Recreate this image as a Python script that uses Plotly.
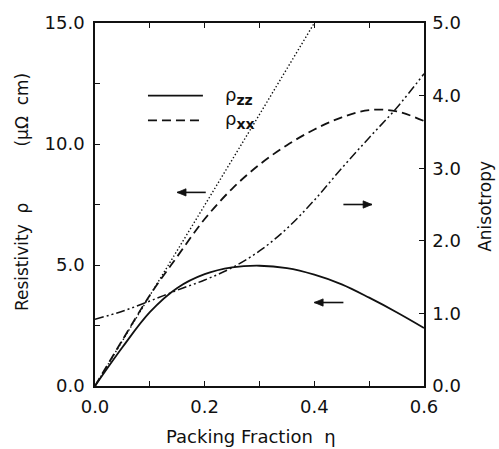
import plotly.graph_objects as go

# Packing fraction grid
eta = [0.0, 0.05, 0.10, 0.15, 0.20, 0.25, 0.30, 0.35, 0.40, 0.45, 0.50, 0.55, 0.60]

# Resistivity components (micro-ohm cm)
rho_zz = [0.0, 1.6, 3.05, 4.05, 4.62, 4.9, 4.97, 4.87, 4.6, 4.2, 3.65, 3.05, 2.4]
rho_xx = [0.0, 1.9, 3.75, 5.35, 6.9, 8.15, 9.15, 9.95, 10.6, 11.1, 11.4, 11.35, 10.95]

# Dotted reference line (left axis)
eta_lin = [0.0, 0.10, 0.20, 0.30, 0.40]
rho_lin = [0.0, 3.72, 7.47, 11.22, 15.0]

# Anisotropy (right axis)
aniso = [0.92, 1.03, 1.17, 1.32, 1.46, 1.63, 1.86, 2.17, 2.56, 3.0, 3.42, 3.83, 4.3]

FONT = "DejaVu Sans"
INK = "#111111"

fig = go.Figure()
fig.add_trace(go.Scatter(x=eta, y=rho_zz, mode="lines", line=dict(color=INK, width=1.8, shape="spline"),
                         showlegend=False))
fig.add_trace(go.Scatter(x=eta, y=rho_xx, mode="lines",
                         line=dict(color=INK, width=1.8, shape="spline", dash="9px,5px"), showlegend=False))
fig.add_trace(go.Scatter(x=eta_lin, y=rho_lin, mode="lines",
                         line=dict(color=INK, width=1.4, dash="1.4px,2.2px"), showlegend=False))
fig.add_trace(go.Scatter(x=eta, y=aniso, mode="lines", yaxis="y2",
                         line=dict(color=INK, width=1.5, shape="spline", dash="9px,3px,2px,3px,2px,3px"),
                         showlegend=False))

tick_style = dict(ticks="inside", ticklen=5, tickwidth=1.2, tickcolor=INK)
axis_common = dict(showline=True, linecolor=INK, linewidth=1.5, showgrid=False, zeroline=False,
                   tickformat=".1f", tickfont=dict(family=FONT, size=18, color=INK), **tick_style)

fig.update_layout(
    width=499, height=449,
    margin=dict(l=95, r=75, t=17, b=63),
    paper_bgcolor="white", plot_bgcolor="white",
    xaxis=dict(range=[0, 0.6], tick0=0, dtick=0.2, minor=dict(dtick=0.1, showgrid=False, **tick_style),
               mirror="ticks", ticklabelstandoff=4, **axis_common),
    yaxis=dict(range=[0, 15], tick0=0, dtick=5, minor=dict(dtick=2.5, showgrid=False, **tick_style),
               ticklabelstandoff=5, **axis_common),
    yaxis2=dict(range=[0, 5], tick0=0, dtick=1, overlaying="y", side="right",
                ticklabelstandoff=3, **axis_common),
)

title_font = dict(family=FONT, size=17, color=INK)
# Axis titles
fig.add_annotation(text="Packing Fraction  η", xref="paper", yref="paper", x=0.474, y=-0.138,
                   showarrow=False, font=dict(family=FONT, size=18, color=INK),
                   xanchor="center", yanchor="middle")
fig.add_annotation(text="Resistivity  ρ", xref="paper", yref="paper", x=-0.222, y=(386 - 255) / 369,
                   showarrow=False, font=title_font, textangle=-90, xanchor="center", yanchor="middle")
fig.add_annotation(text="(μΩ  cm)", xref="paper", yref="paper", x=-0.222, y=(386 - 105) / 369,
                   showarrow=False, font=title_font, textangle=-90, xanchor="center", yanchor="middle")
fig.add_annotation(text="Anisotropy", xref="paper", yref="paper", x=1.185, y=0.496,
                   showarrow=False, font=title_font, textangle=-90, xanchor="center", yanchor="middle")

# Legend
legend_font = dict(family=FONT, size=18, color=INK)
fig.add_shape(type="line", xref="paper", yref="paper", x0=0.161, x1=0.328, y0=0.80, y1=0.80,
              line=dict(color=INK, width=1.8))
fig.add_shape(type="line", xref="paper", yref="paper", x0=0.161, x1=0.328, y0=0.732, y1=0.732,
              line=dict(color=INK, width=1.8, dash="9px,5px"))
fig.add_annotation(text="ρ<sub><span style='font-size:14px'><b>zz</b></span></sub>", xref="paper", yref="paper",
                   x=0.39, y=0.80, showarrow=False, font=legend_font, xanchor="left", yanchor="middle")
fig.add_annotation(text="ρ<sub><span style='font-size:14px'><b>xx</b></span></sub>", xref="paper", yref="paper",
                   x=0.39, y=0.732, showarrow=False, font=legend_font, xanchor="left", yanchor="middle")


# Arrows pointing to the axis each curve belongs to: shaft plus filled head
def add_arrow(x_tail, x_head, y, yref, head_len, head_half):
    fig.add_shape(type="line", xref="x", yref=yref, x0=x_tail, x1=x_head, y0=y, y1=y,
                  line=dict(color=INK, width=1.6))
    back = x_head + (head_len if x_tail > x_head else -head_len)
    fig.add_shape(type="path", xref="x", yref=yref,
                  path=f"M {x_head} {y} L {back} {y + head_half} L {back} {y - head_half} Z",
                  fillcolor=INK, line=dict(color=INK, width=0.8))


add_arrow(0.202, 0.150, 8.0, "y", 0.016, 0.15)
add_arrow(0.453, 0.505, 2.5, "y2", 0.016, 0.05)
add_arrow(0.453, 0.400, 3.45, "y", 0.016, 0.15)

fig.write_html("out.html")
